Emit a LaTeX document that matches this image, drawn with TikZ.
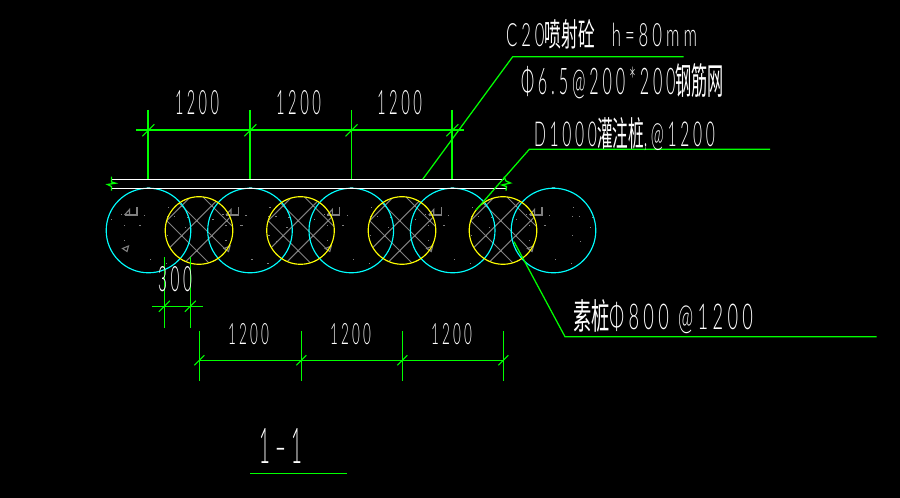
\documentclass[tikz,border=0pt]{standalone}
\usepackage{graphicx}
\usepackage{fontspec}
\setmainfont{Lato}[UprightFont=* Light,LetterSpace=24]
\newfontfamily\cjk{Noto Sans CJK SC}
\newlength{\pxu}\setlength{\pxu}{0.75pt}
\newcommand{\fitbox}[3]{\resizebox{#1\pxu}{#2\pxu}{#3}}
\definecolor{cadgreen}{RGB}{0,255,0}
\definecolor{cadcyan}{RGB}{0,255,255}
\definecolor{cadyellow}{RGB}{255,255,0}
\definecolor{cadgray}{RGB}{128,128,128}
\tikzset{
  bigpile/.style={circle,draw=cadcyan,line width=1.15*\pxu,inner sep=0,outer sep=0,minimum size=84.6*\pxu},
  smallpile/.style={circle,draw=cadyellow,line width=1.15*\pxu,inner sep=0,outer sep=0,minimum size=67.6*\pxu},
  hatchline/.style={draw=cadgray,line width=1*\pxu},
  markline/.style={draw=cadgray,line width=1.1*\pxu},
  slab/.style={draw=white,line width=1.5*\pxu},
  dimline/.style={draw=cadgreen,line width=1.7*\pxu},
  leader/.style={draw=cadgreen,line width=1.25*\pxu},
  ticks/.style={draw=cadgreen,line width=1*\pxu},
  lbl/.style={text=white,inner sep=0,outer sep=0,anchor=north west},
}
\begin{document}
\begin{tikzpicture}[x=0.75pt,y=-0.75pt]
\fill[black] (0,0) rectangle (900,498);
\useasboundingbox (0,0) rectangle (900,498);
% hatch in small piles
\foreach \cx in {199,300.5,402,503}{
  \begin{scope}[shift={(\cx,230.5)}]
    \clip (0,0) circle (33.7);
    \foreach \c in {-22.5,7.5,37.5}{
      \draw[hatchline] ({\c/2-50},{-\c/2-50}) -- ({\c/2+50},{-\c/2+50});
      \foreach \s in {-42.2,-12.2,17.8}{
        \fill[cadgray] ({(\s+\c)/2-1},{(\s-\c)/2-1}) rectangle ++(2,2);
      }
    }
    \foreach \s in {-42.2,-12.2,17.8}{
      \draw[hatchline] ({\s/2-50},{\s/2+50}) -- ({\s/2+50},{\s/2-50});
    }
  \end{scope}
}
% marks and dots in big piles
\foreach \cx in {148.5,250,351.3,452.7,553.5}{
  \begin{scope}[shift={(\cx,230.5)}]
    \draw[markline] (-24,-15.5) -- (-19,-21) -- (-19,-15.5);
    \draw[markline] (-24,-15.5) -- (-11.5,-15.5) -- (-11.5,-23);
    \draw[markline] (-26,18) -- (-20,15.5) -- (-21.5,21) -- cycle;
    \foreach \dx/\dy in {0/-42,20/-23,-4/-15,19/-14,26/-14,39/-13,-8/-5,37/-3,19/5,27/11,2/29,18/33,-37/-11,-27/-16,-24/-5,-9/-5,-24/10}{
      \fill[cadgray] ({\dx-.7},{\dy-.7}) rectangle ++(1.4,1.4);
    }
    \fill[cadgray] (-1.5,-43) rectangle (1.5,-41);
  \end{scope}
}
% piles
\foreach \n/\cx in {a/148.5,b/250,c/351.3,d/452.7,e/553.5}{
  \node[bigpile] (big\n) at (\cx,230.5) {};
}
\foreach \n/\cx in {a/199,b/300.5,c/402,d/503}{
  \node[smallpile] (small\n) at (\cx,230.5) {};
}
% slab
\coordinate (s1l) at (111.5,179.3); \coordinate (s1r) at (504,179.3);
\coordinate (s2l) at (111.5,188.3); \coordinate (s2r) at (506,188.3);
\draw[slab] (s1l) -- (s1r);
\draw[slab] (s2l) -- (s2r);
% break marks
\draw[ticks,line width=1.3*\pxu] (111.5,176.7) -- (111.5,182) -- (115.5,183.2) -- (107.5,184.5) -- (111.5,186.5) -- (111.5,190.7);
\draw[ticks,line width=1.3*\pxu] (504,176.7) -- (506,181) -- (510.5,183) -- (502,185) -- (506.5,186.5) -- (506,190.7);
% top dimension
\foreach \n/\x in {a/148.3,b/250.3,c/351.5,d/452.3}{
  \coordinate (tt\n) at (\x,110); \coordinate (tb\n) at (\x,179.3);
  \draw[dimline] (tt\n) -- (tb\n);
  \draw[ticks] (\x-6,136.3) -- (\x+6,124.3);
}
\coordinate (tl) at (136,130.3); \coordinate (tr) at (464.3,130.3);
\draw[dimline] (tl) -- (tr);
% bottom dimension
\foreach \n/\x in {a/199.3,b/301.3,c/402.3,d/503.3}{
  \coordinate (bt\n) at (\x,331); \coordinate (bb\n) at (\x,380.7);
  \draw[leader] (bt\n) -- (bb\n);
  \draw[ticks] (\x-5,365.3) -- (\x+5,355.3);
}
\draw[dimline,line width=1.4*\pxu] (bta|-0,360.3) -- (btd|-0,360.3);
% 300 dimension
\foreach \n/\x in {a/164.3,b/190.3}{
  \coordinate (st\n) at (\x,257.3); \coordinate (sb\n) at (\x,327.7);
  \draw[leader,line width=1.4*\pxu] (st\n) -- (sb\n);
  \draw[ticks] (\x-5.5,311.8) -- (\x+5.5,300.8);
}
\coordinate (sl) at (152,306.3); \coordinate (sr) at (202.7,306.3);
\draw[leader,line width=1.4*\pxu] (sl) -- (sr);
% leaders
\coordinate (c20a) at (422.7,179.3); \coordinate (c20b) at (512.7,56.7); \coordinate (c20c) at (683.7,56.7);
\draw[leader] (c20a) -- (c20b) -- (c20c);
\coordinate (da) at (476,210); \coordinate (db) at (529.3,149.3); \coordinate (dc) at (770,149.3);
\draw[leader] (da) -- (db) -- (dc);
\coordinate (ea) at (514,241.7); \coordinate (eb) at (565,336.7); \coordinate (ec) at (876.7,336.7);
\draw[leader] (ea) -- (eb) -- (ec);
\coordinate (ula) at (250,473.3); \coordinate (ulb) at (346.7,473.3);
\draw[leader] (ula) -- (ulb);
% texts
\node[lbl] (t1) at (175,91) {\fitbox{44}{24}{1200}};
\node[lbl] (t2) at (276,91) {\fitbox{45}{24}{1200}};
\node[lbl] (t3) at (377,91) {\fitbox{45}{24}{1200}};
\node[lbl] (b1) at (228,324) {\fitbox{41}{21}{1200}};
\node[lbl] (b2) at (330,324) {\fitbox{41}{21}{1200}};
\node[lbl] (b3) at (431,324) {\fitbox{41}{21}{1200}};
\node[lbl] (d3) at (158,267) {\fitbox{34}{25}{300}};
\node[lbl] (tc) at (506,20) {\fitbox{191}{27}{C20{\cjk 喷射砼} \ h=80mm}};
\node[lbl] (tp) at (521,64) {\fitbox{203}{31}{Φ6.5@200*200{\cjk 钢筋网}}};
\node[lbl] (td) at (534,118) {\fitbox{181}{29}{D1000{\cjk 灌注桩},@1200}};
\node[lbl] (ts) at (573,300) {\fitbox{180}{30}{{\cjk 素桩}Φ800 @1200}};
\node[lbl] (tt) at (259,428) {\fitbox{43}{35}{1\hspace{.28em}–\hspace{.28em}1}};
\end{tikzpicture}
\end{document}
